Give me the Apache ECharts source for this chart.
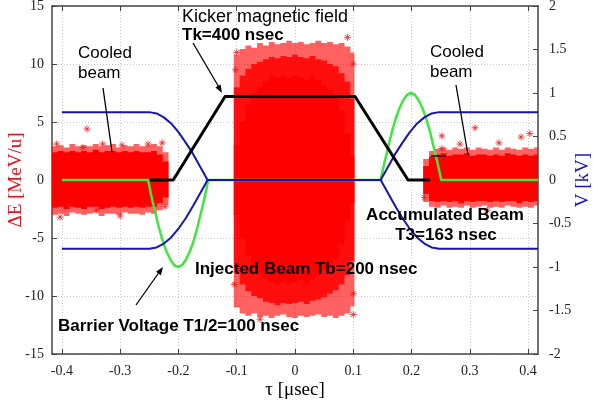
<!DOCTYPE html>
<html>
<head>
<meta charset="utf-8">
<script src="https://cdn.jsdelivr.net/npm/echarts@6/dist/echarts.min.js"></script>
<style>
  html, body { margin: 0; padding: 0; background: #fff; }
  #chart { width: 593px; height: 407px; }
</style>
</head>
<body>
<div id="chart"></div>
<script>
// tick labels
const xTicks = [-0.4, -0.3, -0.2, -0.1, 0, 0.1, 0.2, 0.3, 0.4]

// particle clouds, read as column envelopes (tau edges, dE low/high)
const leftEdges = [-0.417, -0.407, -0.397, -0.387, -0.377, -0.367, -0.357, -0.347, -0.337, -0.327, -0.317,
  -0.307, -0.297, -0.287, -0.277, -0.267, -0.257, -0.247, -0.237, -0.227, -0.217]
const leftHi = [2.9, 3.0, 2.8, 3.1, 2.9, 3.0, 2.9, 3.1, 2.9, 3.0, 3.1, 2.8, 3.0, 2.9, 3.1, 2.9, 3.0, 3.1, 2.9, 2.4]
const leftLo = [-3.0, -2.9, -3.1, -2.8, -2.9, -3.0, -2.9, -2.8, -3.1, -2.9, -2.9, -3.0, -2.8, -2.9, -2.9, -3.0, -2.8, -2.9, -2.6, -2.2]
const leftCoreHi = [2.4, 2.5, 2.4, 2.5, 2.4, 2.5, 2.4, 2.6, 2.4, 2.5, 2.5, 2.4, 2.5, 2.4, 2.5, 2.4, 2.4, 2.5, 2.2, 1.6]
const leftCoreLo = [-2.4, -2.3, -2.5, -2.3, -2.4, -2.5, -2.3, -2.3, -2.5, -2.4, -2.3, -2.4, -2.3, -2.4, -2.3, -2.4, -2.3, -2.3, -2.0, -1.5]

const centerEdges = [-0.105, -0.095, -0.085, -0.075, -0.065, -0.055, -0.045, -0.035, -0.025, -0.015, -0.005,
  0.005, 0.015, 0.025, 0.035, 0.045, 0.055, 0.065, 0.075, 0.085, 0.095, 0.102]
const centerHi = [10.8, 11.3, 11.6, 11.4, 11.8, 11.6, 11.9, 11.7, 11.8, 12.0, 11.8, 11.9, 11.7, 11.8, 12.0, 11.8, 11.9, 11.7, 11.8, 11.5, 11.0]
const centerLo = [-11.0, -11.5, -11.7, -11.5, -11.8, -11.7, -11.9, -11.7, -11.6, -11.8, -11.9, -11.7, -11.8, -11.7, -11.6, -11.8, -11.7, -11.9, -11.7, -11.5, -10.9]
const centerMidHi = [8, 9, 9.6, 10, 10.2, 10.4, 10.6, 10.5, 10.7, 10.6, 10.8, 10.6, 10.5, 10.7, 10.4, 10.3, 10, 9.8, 9.2, 8.5, 7]
const centerMidLo = [-8, -9, -9.6, -10, -10.2, -10.5, -10.6, -10.8, -10.6, -10.7, -10.6, -10.5, -10.7, -10.4, -10.3, -10.1, -9.8, -9.5, -9, -8.2, -7]
const centerCoreHi = [3, 5, 6.5, 7.5, 8, 8.5, 9, 8.8, 9, 8.8, 9, 8.8, 8.6, 9, 8.6, 8.2, 7.8, 7.2, 6, 4, 2]
const centerCoreLo = [-3, -5, -6.5, -7.5, -8, -8.5, -8.8, -9, -8.8, -9, -8.8, -8.6, -9, -8.6, -8.2, -7.8, -7.2, -6.8, -5.5, -3.5, -2]

const rightEdges = [0.220, 0.230, 0.240, 0.250, 0.260, 0.270, 0.280, 0.290, 0.300, 0.310, 0.320,
  0.330, 0.340, 0.350, 0.360, 0.370, 0.380, 0.390, 0.400, 0.410, 0.417]
const rightHi = [1.8, 2.5, 2.7, 2.8, 2.6, 2.8, 2.7, 2.8, 2.6, 2.8, 2.7, 2.6, 2.8, 2.6, 2.8, 2.7, 2.6, 2.8, 2.7, 2.8]
const rightLo = [-1.9, -2.3, -2.4, -2.2, -2.4, -2.3, -2.4, -2.2, -2.4, -2.3, -2.2, -2.4, -2.3, -2.4, -2.2, -2.3, -2.4, -2.3, -2.4, -2.2]
const rightCoreHi = [1.2, 2.0, 2.2, 2.3, 2.1, 2.2, 2.2, 2.3, 2.1, 2.2, 2.2, 2.1, 2.2, 2.1, 2.3, 2.2, 2.1, 2.2, 2.1, 2.2]
const rightCoreLo = [-1.2, -1.8, -1.9, -1.8, -1.9, -1.8, -2.0, -1.8, -1.9, -1.8, -1.8, -1.9, -1.8, -1.9, -1.8, -1.8, -2.0, -1.8, -1.9, -1.8]

// isolated particles [tau, dE]
const strayPoints = [[-0.357, 4.4], [-0.409, 3.1], [-0.364, 2.8], [-0.33, 3.1], [-0.297, 3.0], [-0.252, 3.1],
  [-0.228, 3.2], [-0.403, -3.2], [-0.34, -2.6], [-0.223, -2.3], [-0.3, -3.1],
  [0.252, 3.8], [0.309, 4.5], [0.388, 3.7], [0.403, 4.0], [0.283, 3.1], [0.252, 2.7], [0.222, -1.5],
  [0.35, 3.2], [0.33, -2.6], [-0.1, 11], [0.09, 12.3], [-0.06, -12], [0.1, -11.6],
  [-0.102, 9.5], [-0.104, -9], [0.1, 10], [0.1, -9.8]]

// kicker field (left axis units)
const kickerTau = [-0.249, -0.209, -0.12, 0.103, 0.194, 0.232]
const kickerVal = [0, 0, 7.2, 7.2, 0, 0]

// blue curves, V [kV]
const blueTau = [-0.4, -0.25, -0.2375, -0.225, -0.2125, -0.2, -0.1875, -0.175, -0.1625, -0.15,
  0.147, 0.1595, 0.172, 0.1845, 0.197, 0.2095, 0.222, 0.2345, 0.247, 0.417]
const blueUp = [0.78, 0.78, 0.765, 0.72, 0.65, 0.55, 0.43, 0.30, 0.15, 0,
  0, 0.15, 0.30, 0.43, 0.55, 0.65, 0.72, 0.765, 0.78, 0.78]
const blueDown = [-0.79, -0.79, -0.775, -0.73, -0.66, -0.56, -0.44, -0.30, -0.15, 0,
  0, -0.15, -0.30, -0.44, -0.56, -0.66, -0.73, -0.775, -0.79, -0.79]

// barrier voltage, V [kV]
const greenTau = [-0.4, -0.252, -0.246, -0.2395, -0.233, -0.2265, -0.22, -0.2135, -0.207, -0.2005, -0.194, -0.1875,
  -0.181, -0.1745, -0.168, -0.1615, -0.155, -0.149,
  0.147, 0.1535, 0.16, 0.1665, 0.173, 0.1795, 0.186, 0.1925, 0.199, 0.2055, 0.212, 0.2185, 0.225, 0.2315,
  0.238, 0.2445, 0.251, 0.417]
const greenVal = [0, 0, -0.2, -0.38, -0.56, -0.71, -0.83, -0.92, -0.98, -1, -0.98, -0.92, -0.83, -0.71, -0.56, -0.38, -0.2, 0,
  0, 0.2, 0.38, 0.56, 0.71, 0.83, 0.92, 0.98, 1, 0.98, 0.92, 0.83, 0.71, 0.56, 0.38, 0.2, 0, 0]

var myChart = echarts.init(document.getElementById('chart'))

function columns(edges, lo, hi) {
  let out = []
  for (let i = 0; i < lo.length; i++) {
    out.push([edges[i], edges[i + 1], lo[i], hi[i]])
  }
  return out
}

function pairs(xs, ys) {
  return xs.map((x, i) => [x, ys[i]])
}

// one stepped outline per cloud layer, so translucent columns don't leave seams
function cloudSeries(edges, lo, hi, fill, z) {
  return {
    type: 'custom',
    xAxisIndex: 0,
    yAxisIndex: 0,
    z: z,
    silent: true,
    encode: { x: [0, 1], y: [2, 3] },
    data: columns(edges, lo, hi),
    renderItem: (params, api) => {
      if (params.dataIndex !== 0) return null
      let pts = []
      for (let i = 0; i < hi.length; i++) {
        pts.push(api.coord([edges[i], hi[i]]))
        pts.push(api.coord([edges[i + 1], hi[i]]))
      }
      for (let i = lo.length - 1; i >= 0; i--) {
        pts.push(api.coord([edges[i + 1], lo[i]]))
        pts.push(api.coord([edges[i], lo[i]]))
      }
      return { type: 'polygon', shape: { points: pts }, style: { fill: fill } }
    }
  }
}

const fringe = 'rgba(255,0,0,0.62)'
const mid = 'rgba(255,0,0,0.85)'
const core = '#ff0000'
const serif = '"Liberation Serif", "DejaVu Serif", serif'
const sans = '"Liberation Sans", Arial, sans-serif'
const frame = { show: true, onZero: false, lineStyle: { color: '#444', width: 1.5 } }
const gridLine = { show: true, lineStyle: { color: '#c8c8c8', type: [1, 2], width: 1 } }

function lineSeries(data, color, width, yIdx, z) {
  return {
    type: 'line',
    xAxisIndex: 0,
    yAxisIndex: yIdx,
    data: data,
    symbol: 'none',
    z: z,
    lineStyle: { color: color, width: width, join: 'round' },
    silent: true
  }
}

function txt(text, x, y, size, bold, align) {
  return {
    type: 'text',
    z: 100,
    style: {
      text: text, x: x, y: y,
      font: (bold ? 'bold ' : '') + size + 'px ' + sans,
      fill: '#000',
      textAlign: align || 'left',
      textVerticalAlign: 'middle'
    }
  }
}

function seg(x1, y1, x2, y2) {
  return { type: 'line', z: 100, shape: { x1, y1, x2, y2 }, style: { stroke: '#000', lineWidth: 1.3 } }
}

function head(points) {
  return { type: 'polygon', z: 100, shape: { points: points }, style: { fill: '#000' } }
}

let option = {
  animation: false,
  grid: { left: 52, right: 55, top: 6, bottom: 53, containLabel: false, outerBoundsMode: 'none' },
  xAxis: [{
    type: 'value',
    min: -0.417,
    max: 0.417,
    position: 'bottom',
    name: 'τ [μsec]',
    nameLocation: 'middle',
    nameGap: 27,
    nameMoveOverlap: false,
    nameTextStyle: { fontFamily: serif, fontSize: 19, color: '#000' },
    axisLine: frame,
    axisTick: { show: true, inside: true, length: 5, customValues: xTicks, lineStyle: { color: '#444' } },
    axisLabel: { customValues: xTicks, fontFamily: serif, fontSize: 14, color: '#222', margin: 10 },
    splitLine: gridLine
  }, {
    type: 'value',
    min: -0.417,
    max: 0.417,
    position: 'top',
    axisLine: frame,
    axisTick: { show: true, inside: true, length: 5, customValues: xTicks, lineStyle: { color: '#444' } },
    axisLabel: { show: false },
    splitLine: { show: false }
  }],
  yAxis: [{
    type: 'value',
    min: -15,
    max: 15,
    interval: 5,
    position: 'left',
    name: 'ΔE [MeV/u]',
    nameLocation: 'middle',
    nameRotate: 90,
    nameGap: 26,
    nameMoveOverlap: false,
    nameTextStyle: { fontFamily: serif, fontSize: 19, color: '#e8101a' },
    axisLine: frame,
    axisTick: { show: true, inside: true, length: 5, lineStyle: { color: '#444' } },
    axisLabel: { fontFamily: serif, fontSize: 14, color: '#222', margin: 8 },
    splitLine: gridLine
  }, {
    type: 'value',
    min: -2,
    max: 2,
    interval: 0.5,
    position: 'right',
    name: 'V [kV]',
    nameLocation: 'middle',
    nameRotate: 90,
    nameGap: 36,
    nameMoveOverlap: false,
    nameTextStyle: { fontFamily: serif, fontSize: 19, color: '#1515b5' },
    axisLine: frame,
    axisTick: { show: true, inside: true, length: 5, lineStyle: { color: '#444' } },
    axisLabel: { fontFamily: serif, fontSize: 14, color: '#222', margin: 11 },
    splitLine: { show: false }
  }],
  series: [
    cloudSeries(leftEdges, leftLo, leftHi, fringe, 1),
    cloudSeries(leftEdges, leftCoreLo, leftCoreHi, core, 2),
    cloudSeries(centerEdges, centerLo, centerHi, fringe, 1),
    cloudSeries(centerEdges, centerMidLo, centerMidHi, mid, 2),
    cloudSeries(centerEdges, centerCoreLo, centerCoreHi, core, 3),
    cloudSeries(rightEdges, rightLo, rightHi, fringe, 1),
    cloudSeries(rightEdges, rightCoreLo, rightCoreHi, core, 2),
    {
      type: 'scatter',
      xAxisIndex: 0,
      yAxisIndex: 0,
      z: 4,
      silent: true,
      data: strayPoints,
      symbol: 'path://M5,0L5,10M0,5L10,5M1.5,1.5L8.5,8.5M8.5,1.5L1.5,8.5',
      symbolSize: 7,
      itemStyle: { color: 'rgba(0,0,0,0)', borderColor: '#e82020', borderWidth: 1 }
    },
    lineSeries(pairs(greenTau, greenVal), '#3ee63e', 2.5, 1, 10),
    lineSeries(pairs(blueTau, blueUp), '#1515b5', 2, 1, 11),
    lineSeries(pairs(blueTau, blueDown), '#1515b5', 2, 1, 11),
    lineSeries(pairs(kickerTau, kickerVal), '#000', 3, 0, 12)
  ],
  graphic: [
    txt('Kicker magnetic field', 182, 17, 18, false),
    txt('Tk=400 nsec', 182, 35, 17, true),
    seg(193, 43, 220, 89),
    head([[222, 93], [215.4, 87.6], [220.6, 84.6]]),
    txt('Cooled', 78, 53, 17, false),
    txt('beam', 78, 73, 17, false),
    seg(103, 88, 112, 152),
    txt('Cooled', 430, 52, 17, false),
    txt('beam', 430, 72, 17, false),
    seg(456, 85, 468, 155),
    seg(431, 156, 446, 156),
    txt('Accumulated Beam', 445, 215, 17, true, 'center'),
    txt('T3=163 nsec', 446, 235, 17, true, 'center'),
    txt('Injected Beam Tb=200 nsec', 195, 269, 17, true),
    txt('Barrier Voltage T1/2=100 nsec', 58, 326, 17, true),
    seg(136, 305, 160, 271),
    head([[163, 267], [160.9, 275.2], [156, 271.8]])
  ]
}

myChart.setOption(option)
</script>
</body>
</html>
